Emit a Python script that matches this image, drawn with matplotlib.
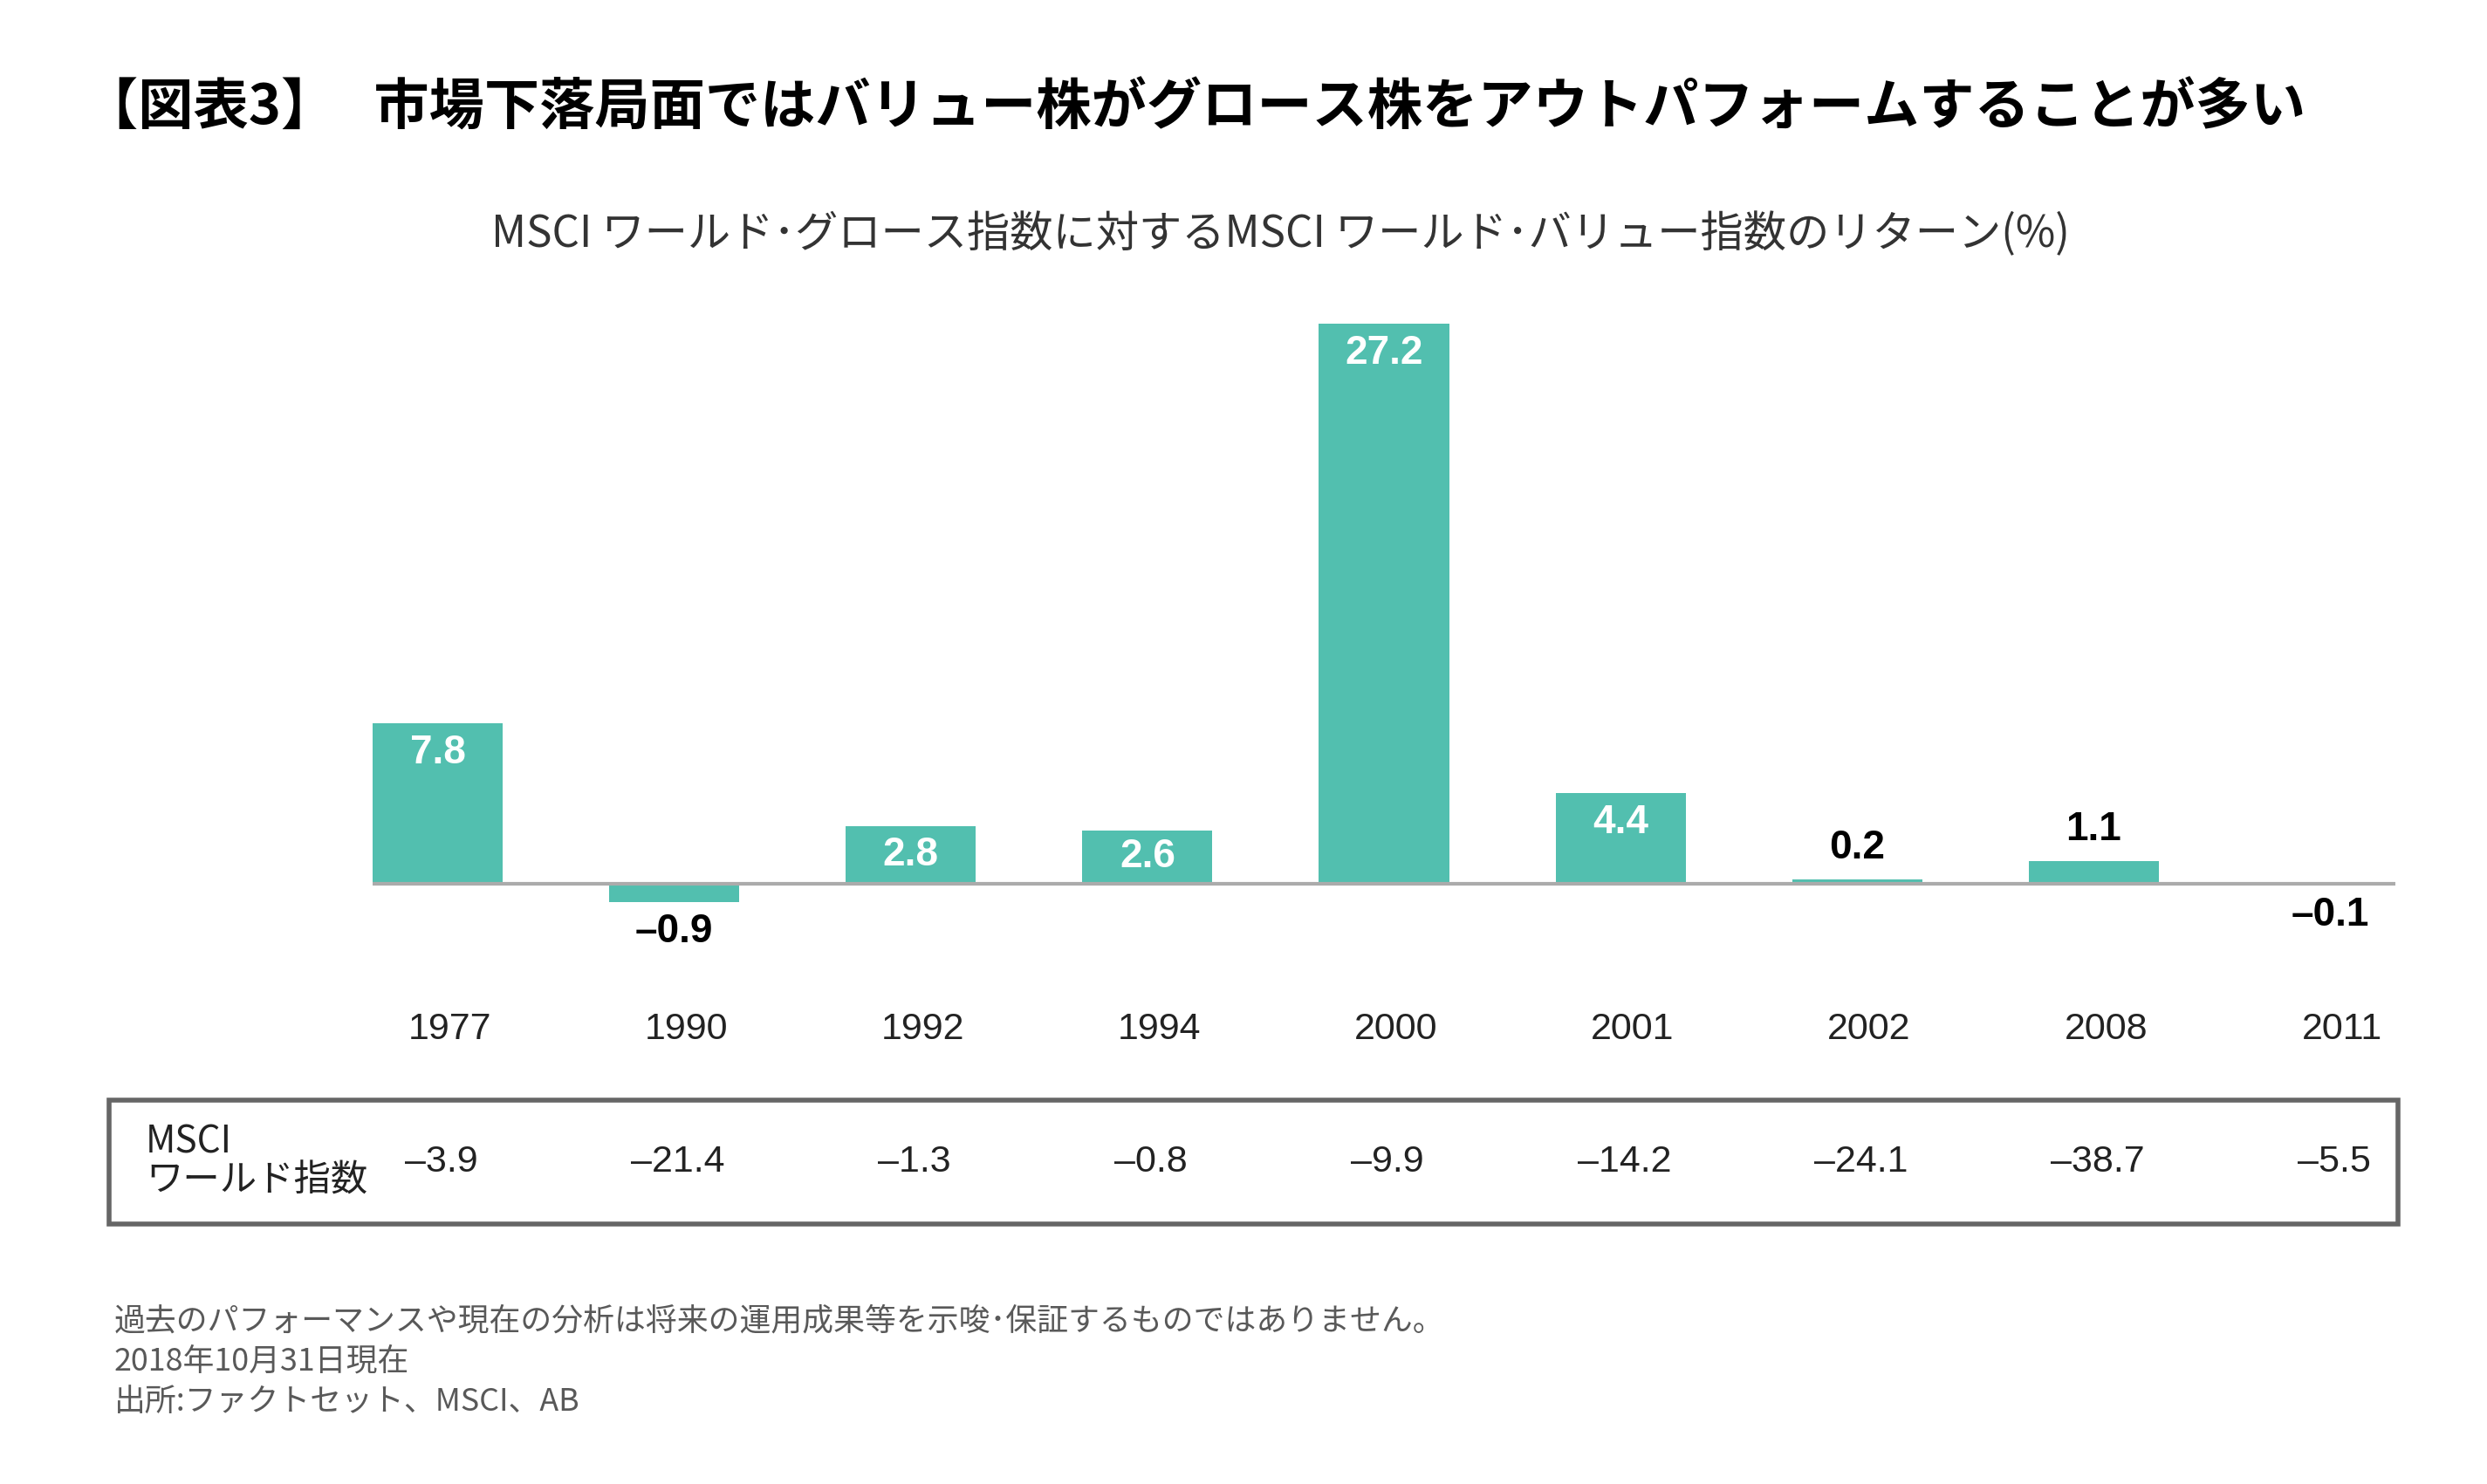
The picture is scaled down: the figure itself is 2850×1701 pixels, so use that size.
import numpy as np
import matplotlib.pyplot as plt
import matplotlib.transforms as mtransforms
from matplotlib.patches import Rectangle

# ---- data ----
years = ['1977', '1990', '1992', '1994', '2000', '2001', '2002', '2008', '2011']
rel_return = [7.8, -0.9, 2.8, 2.6, 27.2, 4.4, 0.2, 1.1, -0.1]
world_index = [-3.9, -21.4, -1.3, -0.8, -9.9, -14.2, -24.1, -38.7, -5.5]

title = '【図表3】   市場下落局面ではバリュー株がグロース株をアウトパフォームすることが多い'
subtitle = 'MSCI ワールド･グロース指数に対するMSCI ワールド･バリュー指数のリターン(%)'
row_label = 'MSCI\nワールド指数'
notes = ['過去のパフォーマンスや現在の分析は将来の運用成果等を示唆･保証するものではありません。',
         '2018年10月31日現在',
         '出所:ファクトセット、MSCI、AB']

bar_color = '#52BFAF'
JP = ['Noto Sans CJK JP', 'DejaVu Sans']
NUM = ['Liberation Sans', 'DejaVu Sans']

W, H = 2850, 1701
fig = plt.figure(figsize=(W/100, H/100), dpi=100)

def fx(px):
    return px / W

def fy(py):
    return 1 - py / H

# ---- axes (pixel layout) ----
x0, x1 = 427, 2745
ylo, yhi = -3, 28
ppu = 23.6
base = 1013
ax = fig.add_axes([fx(x0), fy(base + (0 - ylo)*ppu), fx(x1 - x0), (yhi - ylo)*ppu/H])
x = np.arange(len(years))
bw = 0.55
ax.bar(x, rel_return, width=bw, color=bar_color, zorder=2)
ax.set_xlim(-bw/2, len(years) - 1 + bw/2)
ax.set_ylim(ylo, yhi)
ax.axhline(0, color='#ababab', lw=3, zorder=3)
ax.axis('off')

for xi, v in zip(x, rel_return):
    s = f'{v:.1f}'.replace('-', '–')
    if v >= 2:
        off = min(1.44, v/2)
        ax.text(xi, v - off, s, ha='center', va='center', color='white',
                fontsize=33, fontweight='bold', family=NUM)
    elif v >= 0:
        ax.annotate(s, (xi, v), xytext=(0, 26), textcoords='offset points',
                    ha='center', va='center', color='black',
                    fontsize=33, fontweight='bold', family=NUM)
    else:
        ax.annotate(s, (xi, v), xytext=(0, -24), textcoords='offset points',
                    ha='center', va='center', color='black',
                    fontsize=33, fontweight='bold', family=NUM)

trans = mtransforms.blended_transform_factory(ax.transData, fig.transFigure)
shift = mtransforms.ScaledTranslation(10/72, 0, fig.dpi_scale_trans)
for xi, yr in zip(x, years):
    ax.text(xi, fy(1180), yr, transform=trans + shift, ha='center', va='center',
            fontsize=31, color='#222222', family=NUM)

shift2 = mtransforms.ScaledTranslation(3/72, 0, fig.dpi_scale_trans)
for xi, v in zip(x, world_index):
    s = f'{v:.1f}'.replace('-', '–')
    ax.text(xi, fy(1332), s, transform=trans + shift2, ha='center', va='center',
            fontsize=31, color='#222222', family=NUM)

# table frame
fig.patches.append(Rectangle((fx(125), fy(1403)), fx(2748 - 125), (1403 - 1261)/H,
                             transform=fig.transFigure, fill=False,
                             edgecolor='#666666', lw=4))
fig.text(fx(167), fy(1332), row_label, ha='left', va='center', fontsize=30.5,
         color='#222222', family=JP, linespacing=1.0)

# ---- titles ----
fig.text(fx(95), fy(124), title, ha='left', va='center', fontsize=45.5,
         fontweight='bold', color='black', family=JP)
fig.text(fx(1467), fy(269), subtitle, ha='center', va='center', fontsize=35.5,
         color='#333333', family=JP)

for i, t in enumerate(notes):
    fig.text(fx(131), fy(1514 + i*46.5), t, ha='left', va='center', fontsize=25.8,
             color='#595959', family=JP)

fig.savefig('out.png', dpi=100)
